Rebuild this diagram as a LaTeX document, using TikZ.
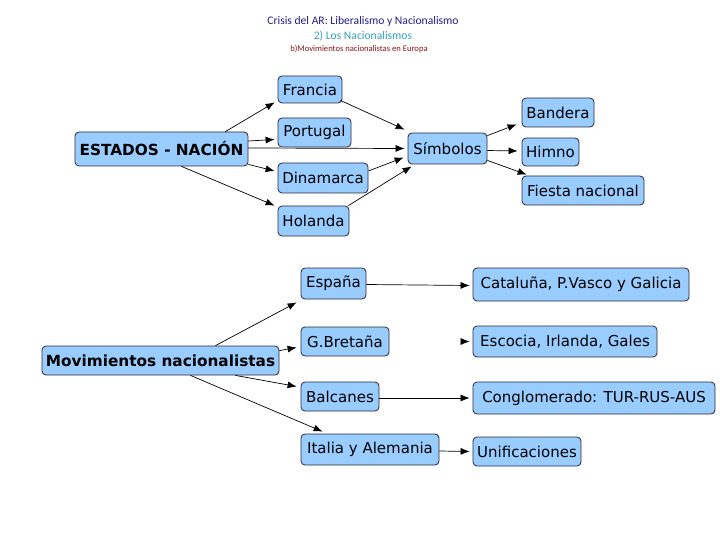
\documentclass[tikz,border=0pt]{standalone}
\usepackage{fontspec}
\setmainfont{DejaVu Sans}
\newfontfamily\titlefont{Carlito}
\usetikzlibrary{arrows.meta,calc}
\definecolor{boxfill}{RGB}{153,204,255}
\definecolor{boxline}{RGB}{40,40,60}
\definecolor{tnavy}{RGB}{30,30,140}
\definecolor{tteal}{RGB}{50,160,190}
\definecolor{tred}{RGB}{140,20,20}
\tikzset{
  cbox/.style={draw=boxline, line width=0.8pt, fill=boxfill, rounded corners=4pt,
    inner sep=0pt, font=\fontsize{15}{18}\selectfont, text=black},
  mainbox/.style={cbox, font=\fontsize{15.3}{18}\selectfont\bfseries},
  arr/.style={draw=black, line width=0.7pt, -{Latex[length=9pt,width=7pt]}},
  ttl/.style={inner sep=0pt, font=\titlefont}
}
\begin{document}
\begin{tikzpicture}[x=1pt,y=-1pt]
\useasboundingbox (0,0) rectangle (720,540);
% titles
\node[ttl, text=tnavy, font=\titlefont\fontsize{11.6}{13}\selectfont] (t1) at (363,21) {Crisis del AR: Liberalismo y Nacionalismo};
\node[ttl, text=tteal, font=\titlefont\fontsize{11.6}{13}\selectfont] (t2) at (363,36) {2) Los Nacionalismos};
\node[ttl, text=tred, font=\titlefont\fontsize{8.6}{10}\selectfont] (t3) at (359,49) {b)Movimientos nacionalistas en Europa};
% top section
\node[mainbox, minimum width=173pt, minimum height=34pt] (estados) at (161.5,149) {ESTADOS - NACIÓN};
\node[cbox, minimum width=64pt, minimum height=27pt] (francia) at (310,89.5) {Francia};
\node[cbox, minimum width=73pt, minimum height=29pt] (portugal) at (314.5,132.5) {Portugal};
\node[cbox, minimum width=90pt, minimum height=30pt] (dinamarca) at (323,178) {Dinamarca};
\node[cbox, minimum width=71pt, minimum height=30pt] (holanda) at (313.5,221) {Holanda};
\node[cbox, minimum width=79pt, minimum height=31pt] (simbolos) at (447.5,148.5) {Símbolos};
\node[cbox, minimum width=72pt, minimum height=29pt] (bandera) at (558,112.5) {Bandera};
\node[cbox, minimum width=57pt, minimum height=28pt] (himno) at (550.5,152) {Himno};
\node[cbox, minimum width=122pt, minimum height=29pt] (fiesta) at (583,190.5) {Fiesta nacional};
% bottom section
\node[mainbox, minimum width=237pt, minimum height=29pt] (mov) at (160.5,360.5) {Movimientos nacionalistas};
\node[cbox, minimum width=65pt, minimum height=31pt] (espana) at (333.5,283.5) {España};
\node[cbox, minimum width=88pt, minimum height=29pt] (gbretana) at (345,341.5) {G.Bretaña};
\node[cbox, minimum width=78pt, minimum height=29pt] (balcanes) at (340,396.5) {Balcanes};
\node[cbox, minimum width=138pt, minimum height=31pt] (italia) at (370,449.5) {Italia y Alemania};
\node[cbox, minimum width=216pt, minimum height=33pt] (cataluna) at (581,284.5) {Cataluña, P.Vasco y Galicia};
\node[cbox, minimum width=184pt, minimum height=31pt] (escocia) at (565,341.5) {Escocia, Irlanda, Gales};
\node[cbox, minimum width=242pt, minimum height=32pt] (conglo) at (594,398) {Conglomerado: TUR-RUS-AUS};
\node[cbox, minimum width=108pt, minimum height=29pt] (unif) at (527,451.5) {Unificaciones};
% top connectors
\draw[arr] ($(estados.north east)+(-23,0)$) -- ($(francia.south west)+(-3,-1)$);
\draw[arr] ($(estados.east)+(0,-8)$) -- ($(portugal.west)+(-3,7)$);
\draw[arr] ($(estados.east)+(0,-1)$) -- ($(simbolos.west)+(-3,0)$);
\draw[arr] ($(estados.south east)+(0,-2)$) -- ($(dinamarca.west)+(-3,-7)$);
\draw[arr] ($(estados.south)+(20,0)$) -- ($(holanda.north west)+(-3,0)$);
\draw[arr] ($(francia.south east)+(-2,-3)$) -- ($(simbolos.north west)+(-3,-3)$);
\draw[arr] ($(dinamarca.east)+(0,-7)$) -- ($(simbolos.west)+(-4,9)$);
\draw[arr] ($(holanda.north east)+(-1,0)$) -- ($(simbolos.south west)+(4,2)$);
\draw[arr] ($(simbolos.north east)+(0,3)$) -- ($(bandera.south west)+(-5,-3)$);
\draw[arr] ($(simbolos.east)+(0,2)$) -- ($(himno.west)+(-4,-1)$);
\draw[arr] ($(simbolos.south east)+(0,-4)$) -- ($(fiesta.north west)+(5,-1)$);
% bottom connectors
\draw[arr] ($(mov.north)+(55,0)$) -- ($(espana.south west)+(-4,3)$);
\draw[arr] ($(mov.north east)+(0,5)$) -- ($(gbretana.west)+(-4,6)$);
\draw[arr] ($(mov.south east)+(-44,0)$) -- ($(balcanes.west)+(-4,-10)$);
\draw[arr] ($(mov.south)+(30,0)$) -- ($(italia.north west)+(22,-2)$);
\draw[arr] ($(espana.east)+(0,1)$) -- ($(cataluna.west)+(-3,1)$);
\coordinate (escfrom) at ($(escocia.west)+(-12,0)$);
\draw[arr] (escfrom) -- ($(escocia.west)+(-3,0)$);
\draw[arr] ($(balcanes.east)+(0,1.5)$) -- ($(conglo.west)+(-3,0)$);
\draw[arr] ($(italia.east)+(0,1.5)$) -- ($(unif.west)+(-3,0)$);
\end{tikzpicture}
\end{document}
